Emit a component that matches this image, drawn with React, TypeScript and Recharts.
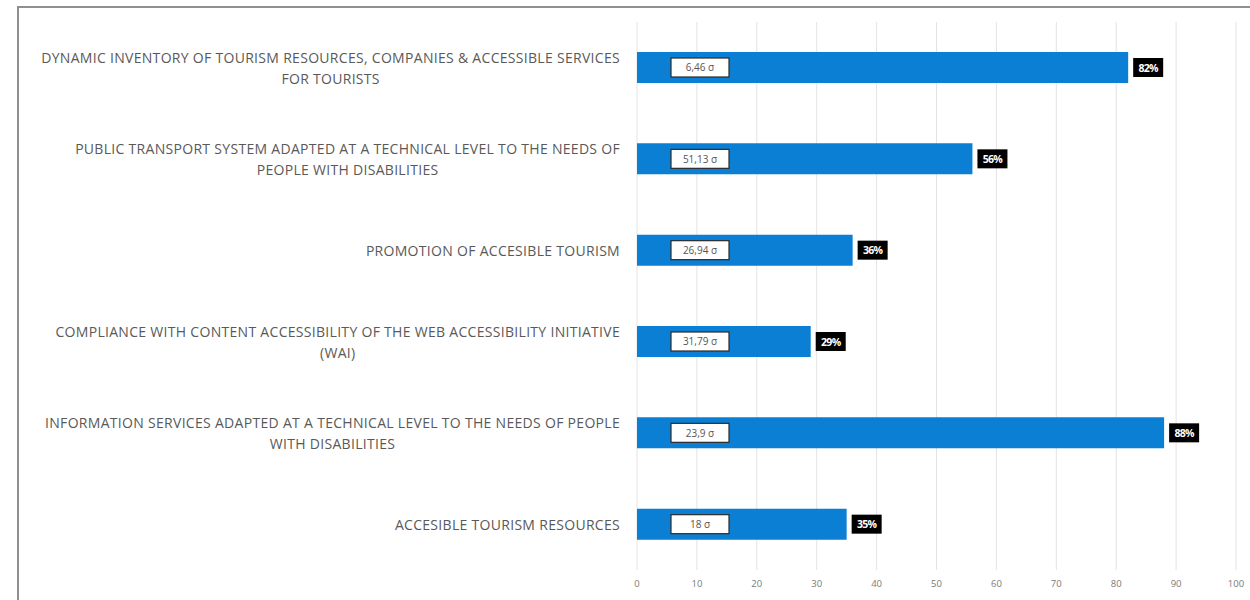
import React from "react";
import { Bar, BarChart, CartesianGrid, LabelList, XAxis, YAxis } from "recharts";

const CATEGORIES = [
  "DYNAMIC INVENTORY OF TOURISM RESOURCES, COMPANIES & ACCESSIBLE SERVICES|FOR TOURISTS",
  "PUBLIC TRANSPORT SYSTEM ADAPTED AT A TECHNICAL LEVEL TO THE NEEDS OF|PEOPLE WITH DISABILITIES",
  "PROMOTION OF ACCESIBLE TOURISM",
  "COMPLIANCE WITH CONTENT ACCESSIBILITY OF THE WEB ACCESSIBILITY INITIATIVE|(WAI)",
  "INFORMATION SERVICES ADAPTED AT A TECHNICAL LEVEL TO THE NEEDS OF PEOPLE|WITH DISABILITIES",
  "ACCESIBLE TOURISM RESOURCES",
];
const PERCENTS = [82, 56, 36, 29, 88, 35];
const SIGMAS = ["6,46 σ", "51,13 σ", "26,94 σ", "31,79 σ", "23,9 σ", "18 σ"];
const X_TICKS = [0, 10, 20, 30, 40, 50, 60, 70, 80, 90, 100];

const rows = CATEGORIES.map((name, i) => ({
  name,
  value: PERCENTS[i],
  sigma: SIGMAS[i],
}));

const BAR_COLOR = "#0b7fd4";
const FONT = "'Open Sans', 'Noto Sans', sans-serif";

function CategoryTick(props: any) {
  const { x, y, payload } = props;
  const lines = String(payload.value).split("|");
  const w = 610;
  const h = 46;
  return (
    <foreignObject x={x - 9 - w} y={y - h / 2} width={w} height={h}>
      <div
        style={{
          width: w,
          height: h,
          display: "flex",
          justifyContent: "flex-end",
          alignItems: "center",
        }}
      >
        <div
          style={{
            textAlign: "center",
            fontFamily: FONT,
            fontSize: 14,
            lineHeight: "21px",
            color: "#595959",
            letterSpacing: 0.3,
            whiteSpace: "nowrap",
          }}
        >
          {lines.map((l, i) => (
            <div key={i}>{l}</div>
          ))}
        </div>
      </div>
    </foreignObject>
  );
}

function SigmaLabel(props: any) {
  const { x, y, height, value } = props;
  const bw = 58;
  const bh = 19;
  const bx = x + 34;
  const by = y + height / 2 - bh / 2;
  return (
    <g>
      <rect x={bx} y={by} width={bw} height={bh} fill="#fff" stroke="#2a2a2a" strokeWidth={1.2} />
      <text
        x={bx + bw / 2}
        y={by + bh / 2 + 3.7}
        textAnchor="middle"
        fontFamily={FONT}
        fontSize={10}
        fill="#555"
      >
        {value}
      </text>
    </g>
  );
}

function PercentLabel(props: any) {
  const { x, y, width, height, value } = props;
  const bx = x + width + 5;
  const by = y + height / 2 - 9.5;
  return (
    <g>
      <rect x={bx} y={by} width={30} height={19} fill="#000" />
      <text
        x={bx + 15}
        y={by + 13.5}
        textAnchor="middle"
        fontFamily={FONT}
        fontSize={10.5}
        fontWeight={700}
        letterSpacing={-0.7}
        fill="#fff"
      >
        {value}%
      </text>
    </g>
  );
}

export default function App() {
  return (
    <div style={{ position: "fixed", left: 0, top: 0, width: 1250, height: 600, overflow: "hidden", background: "#fff" }}>
      <div
        style={{
          position: "absolute",
          left: 17,
          top: 6,
          width: 1260,
          height: 620,
          border: "2px solid #8f8f8f",
        }}
      />
      <div style={{ position: "absolute", left: 0, top: 0 }}>
        <BarChart
          width={1250}
          height={600}
          data={rows}
          layout="vertical"
          margin={{ top: 22, right: 14, left: 0, bottom: 0 }}
          barSize={31}
        >
          <CartesianGrid horizontal={false} stroke="#e3e3e3" />
          <XAxis
            type="number"
            domain={[0, 100]}
            ticks={X_TICKS}
            axisLine={false}
            tickLine={false}
            height={30}
            tick={{ fontFamily: FONT, fontSize: 9.5, fill: "#7a7a7a" }}
            tickMargin={4}
          />
          <YAxis
            type="category"
            dataKey="name"
            width={637}
            axisLine={false}
            tickLine={false}
            tick={<CategoryTick />}
            interval={0}
          />
          <Bar dataKey="value" fill={BAR_COLOR} isAnimationActive={false}>
            <LabelList dataKey="sigma" content={<SigmaLabel />} />
            <LabelList dataKey="value" content={<PercentLabel />} />
          </Bar>
        </BarChart>
      </div>
    </div>
  );
}
